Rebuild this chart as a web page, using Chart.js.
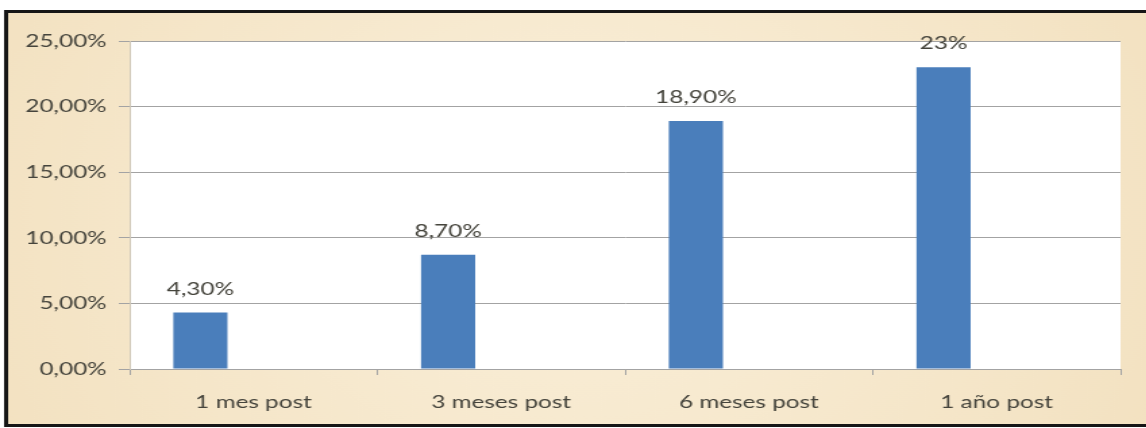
<!DOCTYPE html>
<html><head><meta charset="utf-8">
<script src="https://cdn.jsdelivr.net/npm/chart.js@4/dist/chart.umd.min.js"></script>
<style>
html,body{margin:0;padding:0;background:#fff;overflow:hidden;width:1146px;height:428px}
#wrap{position:absolute;left:0;top:0;width:849px;height:428px;transform:scaleX(1.35);transform-origin:0 0}
canvas{display:block}
</style></head><body>
<div id="wrap"><canvas id="c" width="849" height="428"></canvas></div>
<script>
const categories = ['1 mes post', '3 meses post', '6 meses post', '1 año post'];
const values = [4.3, 8.7, 18.9, 23];
const valueLabels = ['4,30%', '8,70%', '18,90%', '23%'];
const yTickLabels = ['0,00%', '5,00%', '10,00%', '15,00%', '20,00%', '25,00%'];
const emptySeries = [null, null, null, null];

const FONT = 'Lato';
const TEXT = '#45443c';
const GRID = '#a3a3a3';

const bgPlugin = {
  id: 'bg',
  beforeDraw(chart) {
    const { ctx, chartArea: a, width } = chart;
    ctx.save();
    const g = ctx.createRadialGradient(width / 2, 214, 40, width / 2, 214, width * 0.62);
    g.addColorStop(0, '#faefd9');
    g.addColorStop(1, '#f2e0be');
    ctx.fillStyle = g;
    ctx.fillRect(4, 11, width, 415);
    ctx.strokeStyle = '#161616';
    ctx.lineWidth = 3;
    ctx.beginPath();
    ctx.moveTo(width + 10, 11.5);
    ctx.lineTo(4.5, 11.5);
    ctx.lineTo(4.5, 425.5);
    ctx.lineTo(width + 10, 425.5);
    ctx.stroke();
    ctx.fillStyle = '#ffffff';
    ctx.fillRect(a.left, a.top, a.right - a.left, a.bottom - a.top);
    ctx.restore();
  }
};

const labelPlugin = {
  id: 'valueLabels',
  afterDatasetsDraw(chart) {
    const meta = chart.getDatasetMeta(0);
    const ctx = chart.ctx;
    ctx.save();
    ctx.font = '18px ' + FONT;
    ctx.fillStyle = TEXT;
    ctx.textAlign = 'center';
    ctx.textBaseline = 'alphabetic';
    meta.data.forEach((bar, i) => {
      ctx.fillText(valueLabels[i], bar.x, bar.y - 18);
    });
    ctx.restore();
  }
};

new Chart(document.getElementById('c'), {
  type: 'bar',
  data: {
    labels: categories,
    datasets: [
      { data: values, backgroundColor: '#4a7ebb', categoryPercentage: 0.857, barPercentage: 0.51 },
      { data: emptySeries, backgroundColor: '#4a7ebb', categoryPercentage: 0.857, barPercentage: 0.51 }
    ]
  },
  options: {
    responsive: false,
    animation: false,
    devicePixelRatio: 1,
    layout: { padding: { top: 41, right: 19, bottom: 10, left: 0 } },
    plugins: { legend: { display: false }, tooltip: { enabled: false } },
    scales: {
      x: {
        grid: { drawOnChartArea: false, drawTicks: true, tickLength: 6, color: GRID, offset: true },
        border: { display: true, color: GRID },
        ticks: { font: { family: FONT, size: 18 }, color: TEXT, padding: 16, maxRotation: 0, autoSkip: false },
        afterFit(s) { s.height = 49; }
      },
      y: {
        min: 0, max: 25,
        ticks: {
          stepSize: 5,
          font: { family: FONT, size: 18 }, color: TEXT, padding: 9,
          callback: (v, i) => yTickLabels[i]
        },
        grid: { color: GRID, tickLength: 8 },
        border: { display: true, color: '#cfc8b8' },
        afterFit(s) { s.width = 96; }
      }
    }
  },
  plugins: [bgPlugin, labelPlugin]
});
</script>
</body></html>
